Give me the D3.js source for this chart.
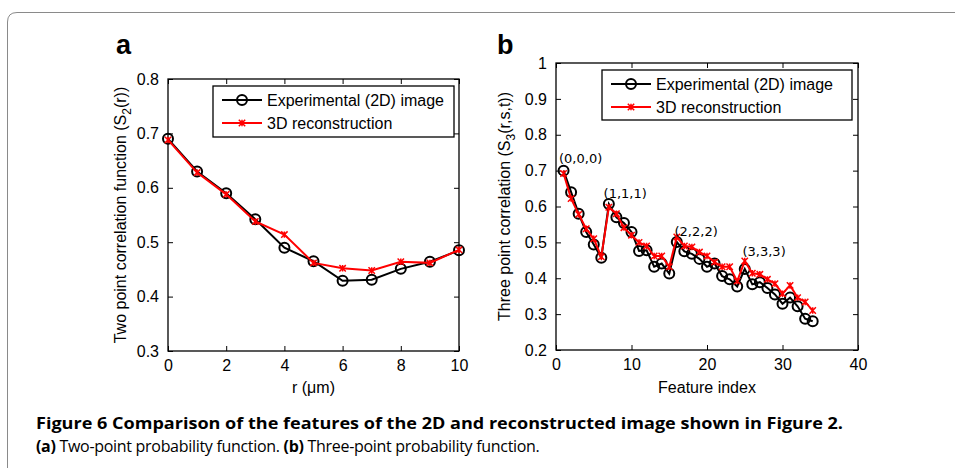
<!DOCTYPE html>
<html lang="en">
<head>
<meta charset="UTF-8">
<title>Figure 6</title>
<script src="https://cdn.jsdelivr.net/npm/d3@7"></script>
<style>
  body { margin: 0; background: #fff; }
  text { font-family: "Liberation Sans", Arial, sans-serif; fill: #000; }
</style>
</head>
<body>
<svg width="955" height="468"></svg>
<script>
// panel a: two point correlation
var radiusA = [0, 1, 2, 3, 4, 5, 6, 7, 8, 9, 10];
var expA = [0.690, 0.630, 0.590, 0.542, 0.490, 0.465, 0.429, 0.431, 0.451, 0.464, 0.485];
var recA = [0.688, 0.628, 0.588, 0.538, 0.514, 0.462, 0.452, 0.448, 0.464, 0.462, 0.486];
var xTicksA = [0, 2, 4, 6, 8, 10];
var yTicksA = [0.3, 0.4, 0.5, 0.6, 0.7, 0.8];

// panel b: three point correlation
var featureIdx = [1, 2, 3, 4, 5, 6, 7, 8, 9, 10, 11, 12, 13, 14, 15, 16, 17,
                  18, 19, 20, 21, 22, 23, 24, 25, 26, 27, 28, 29, 30, 31, 32, 33, 34];
var expB = [0.700, 0.640, 0.580, 0.529, 0.494, 0.457, 0.607, 0.570, 0.554, 0.529, 0.476, 0.478,
            0.432, 0.441, 0.413, 0.501, 0.475, 0.468, 0.454, 0.432, 0.441, 0.406, 0.397, 0.377,
            0.426, 0.383, 0.389, 0.373, 0.355, 0.329, 0.346, 0.322, 0.287, 0.280];
var recB = [0.692, 0.622, 0.578, 0.538, 0.510, 0.460, 0.598, 0.580, 0.541, 0.520, 0.500, 0.490,
            0.462, 0.462, 0.432, 0.515, 0.490, 0.487, 0.473, 0.462, 0.445, 0.432, 0.432, 0.392,
            0.448, 0.414, 0.411, 0.397, 0.385, 0.357, 0.380, 0.346, 0.334, 0.310];
var xTicksB = [0, 10, 20, 30, 40];
var yTicksB = [0.2, 0.3, 0.4, 0.5, 0.6, 0.7, 0.8, 0.9, 1];

// (r,s,t) labels on the peaks of panel b
var annotText = ["(0,0,0)", "(1,1,1)", "(2,2,2)", "(3,3,3)"];
var annotX = [0.4, 6.3, 15.7, 24.7];
var annotY = [0.722, 0.624, 0.518, 0.463];

var seriesNames = ["Experimental (2D) image", "3D reconstruction"];

var svg = d3.select("svg");

// outer frame of the figure box
svg.append("path")
    .attr("d", "M7.5,468 L7.5,22 Q7.5,12.5 17,12.5 L955,12.5")
    .attr("fill", "none")
    .attr("stroke", "#8a8a8a")
    .attr("stroke-width", 1);

function asterisk(x, y) {
    var s = 3.2;
    return "M" + (x - s) + "," + (y - s) + "L" + (x + s) + "," + (y + s) +
           "M" + (x - s) + "," + (y + s) + "L" + (x + s) + "," + (y - s) +
           "M" + x + "," + (y - s) + "L" + x + "," + (y + s);
}

function drawPanel(cfg) {
    var g = svg.append("g");
    var x = d3.scaleLinear().domain(cfg.xDomain).range([cfg.left, cfg.right]);
    var y = d3.scaleLinear().domain(cfg.yDomain).range([cfg.bottom, cfg.top]);

    // box with inward ticks on all four sides (matlab style)
    g.append("rect")
        .attr("x", cfg.left).attr("y", cfg.top)
        .attr("width", cfg.right - cfg.left).attr("height", cfg.bottom - cfg.top)
        .attr("fill", "none").attr("stroke", "#000").attr("stroke-width", 1.3);

    var axB = g.append("g").attr("transform", "translate(0," + cfg.bottom + ")")
        .call(d3.axisBottom(x).tickValues(cfg.xTicks).tickSizeInner(-5).tickSizeOuter(0).tickPadding(9).tickFormat(d3.format("d")));
    var axT = g.append("g").attr("transform", "translate(0," + cfg.top + ")")
        .call(d3.axisTop(x).tickValues(cfg.xTicks).tickSizeInner(-5).tickSizeOuter(0).tickFormat(""));
    var axL = g.append("g").attr("transform", "translate(" + cfg.left + ",0)")
        .call(d3.axisLeft(y).tickValues(cfg.yTicks).tickSizeInner(-5).tickSizeOuter(0).tickPadding(9).tickFormat(cfg.yFormat));
    var axR = g.append("g").attr("transform", "translate(" + cfg.right + ",0)")
        .call(d3.axisRight(y).tickValues(cfg.yTicks).tickSizeInner(-5).tickSizeOuter(0).tickFormat(""));

    [axB, axT, axL, axR].forEach(function(a) {
        a.select(".domain").remove();
        a.selectAll("line").attr("stroke", "#000").attr("stroke-width", 1);
        a.selectAll("text").attr("font-size", 16).attr("fill", "#000")
            .style("font-family", "'Liberation Sans', Arial, sans-serif");
    });

    var line = d3.line()
        .x(function(d) { return x(d[0]); })
        .y(function(d) { return y(d[1]); });

    var expPts = cfg.xs.map(function(v, i) { return [v, cfg.exp[i]]; });
    var recPts = cfg.xs.map(function(v, i) { return [v, cfg.rec[i]]; });

    g.append("path").attr("d", line(expPts))
        .attr("fill", "none").attr("stroke", "#000").attr("stroke-width", 2);
    g.selectAll("circle.exp").data(expPts).join("circle")
        .attr("class", "exp")
        .attr("cx", function(d) { return x(d[0]); })
        .attr("cy", function(d) { return y(d[1]); })
        .attr("r", 5)
        .attr("fill", "none").attr("stroke", "#000").attr("stroke-width", 2);

    g.append("path").attr("d", line(recPts))
        .attr("fill", "none").attr("stroke", "#ff0000").attr("stroke-width", 2);
    g.selectAll("path.rec").data(recPts).join("path")
        .attr("class", "rec")
        .attr("d", function(d) { return asterisk(x(d[0]), y(d[1])); })
        .attr("stroke", "#ff0000").attr("stroke-width", 1.5);

    // legend
    var lg = g.append("g");
    lg.append("rect")
        .attr("x", cfg.legend[0]).attr("y", cfg.legend[1])
        .attr("width", cfg.legend[2]).attr("height", cfg.legend[3])
        .attr("fill", "#fff").attr("stroke", "#000").attr("stroke-width", 1.3);
    [0, 1].forEach(function(i) {
        var ly = cfg.legend[1] + 14 + i * 23;
        var lx = cfg.legend[0] + 9;
        lg.append("line").attr("x1", lx).attr("x2", lx + 40).attr("y1", ly).attr("y2", ly)
            .attr("stroke", i == 0 ? "#000" : "#ff0000").attr("stroke-width", 2);
        if (i == 0) {
            lg.append("circle").attr("cx", lx + 20).attr("cy", ly).attr("r", 5)
                .attr("fill", "none").attr("stroke", "#000").attr("stroke-width", 2);
        } else {
            lg.append("path").attr("d", asterisk(lx + 20, ly))
                .attr("stroke", "#ff0000").attr("stroke-width", 1.5);
        }
        lg.append("text").attr("x", lx + 45).attr("y", ly + 6)
            .attr("font-size", 16).text(seriesNames[i]);
    });

    // panel letter
    g.append("text").attr("x", cfg.letterX).attr("y", 54)
        .attr("font-size", 27).attr("font-weight", "bold").text(cfg.letter);

    // x label
    g.append("text")
        .attr("x", (cfg.left + cfg.right) / 2).attr("y", 393)
        .attr("text-anchor", "middle").attr("font-size", 16)
        .text(cfg.xLabel);

    // y label with subscript
    var yl = g.append("text")
        .attr("transform", "translate(" + cfg.yLabelX + "," + ((cfg.top + cfg.bottom) / 2) + ") rotate(-90)")
        .attr("text-anchor", "middle").attr("font-size", 16);
    yl.append("tspan").text(cfg.yLabel[0]);
    yl.append("tspan").attr("dy", 5).attr("font-size", 12).text(cfg.yLabel[1]);
    yl.append("tspan").attr("dy", -5).text(cfg.yLabel[2]);

    return { x: x, y: y, g: g };
}

drawPanel({
    left: 168, right: 459, top: 79, bottom: 351,
    xDomain: [0, 10], yDomain: [0.3, 0.8],
    xTicks: xTicksA, yTicks: yTicksA, yFormat: d3.format(".1f"),
    xs: radiusA, exp: expA, rec: recA,
    legend: [213, 86, 241, 51],
    letter: "a", letterX: 116,
    xLabel: "r (\u03bcm)",
    yLabel: ["Two point correlation function (S", "2", "(r))"], yLabelX: 126
});

var pb = drawPanel({
    left: 556, right: 858, top: 63, bottom: 350,
    xDomain: [0, 40], yDomain: [0.2, 1],
    xTicks: xTicksB, yTicks: yTicksB, yFormat: function(d) { return d == 1 ? "1" : d3.format(".1f")(d); },
    xs: featureIdx, exp: expB, rec: recB,
    legend: [602, 70, 250, 50],
    letter: "b", letterX: 497,
    xLabel: "Feature index",
    yLabel: ["Three point correlation (S", "3", "(r,s,t))"], yLabelX: 510
});

pb.g.selectAll("text.annot").data(annotText).join("text")
    .attr("class", "annot")
    .attr("x", function(d, i) { return pb.x(annotX[i]); })
    .attr("y", function(d, i) { return pb.y(annotY[i]); })
    .attr("font-size", 13)
    .style("font-family", "'DejaVu Sans', sans-serif")
    .attr("fill", "#222")
    .text(function(d) { return d; });

// caption
var cap = svg.append("g").style("font-family", "'Open Sans', 'Noto Sans', sans-serif");
cap.append("text").attr("x", 36).attr("y", 429)
    .attr("font-size", 16).attr("font-weight", "bold").attr("fill", "#1a1a1a")
    .attr("textLength", 807).attr("lengthAdjust", "spacingAndGlyphs")
    .style("font-family", "inherit")
    .text("Figure 6 Comparison of the features of the 2D and reconstructed image shown in Figure 2.");
var c2 = cap.append("text").attr("x", 36).attr("y", 452)
    .attr("font-size", 16).attr("fill", "#333")
    .style("letter-spacing", "-0.3px")
    .style("font-family", "inherit");
c2.append("tspan").attr("font-weight", "bold").text("(a)");
c2.append("tspan").text(" Two-point probability function. ");
c2.append("tspan").attr("font-weight", "bold").text("(b)");
c2.append("tspan").text(" Three-point probability function.");
</script>
</body>
</html>
